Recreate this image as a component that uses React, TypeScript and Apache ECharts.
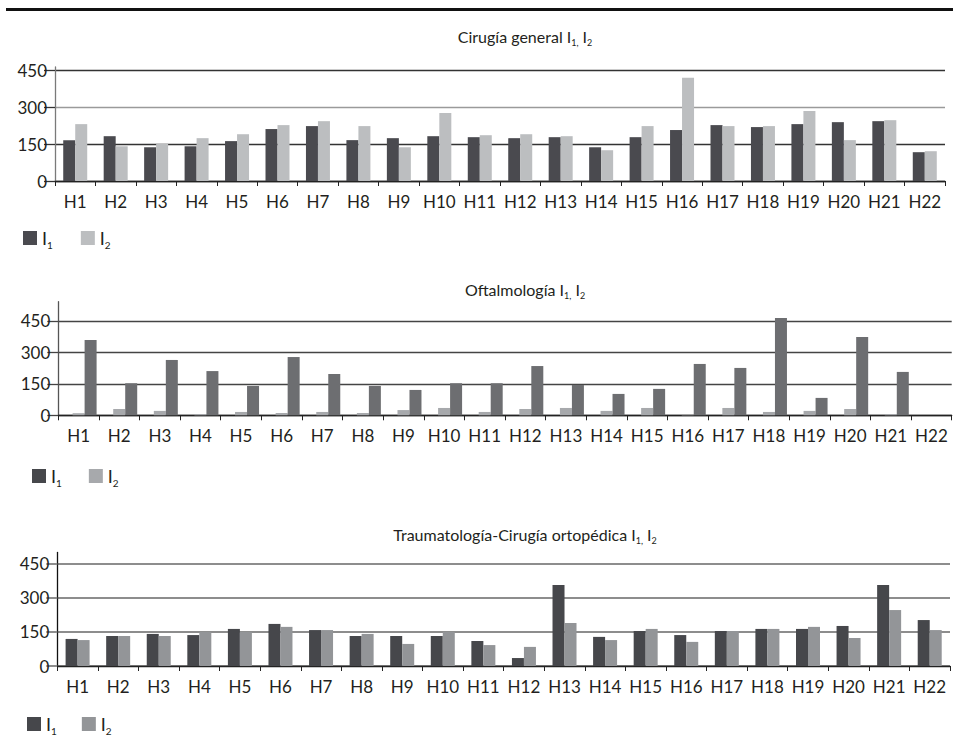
import React, { useEffect, useRef } from 'react';
import * as echarts from 'echarts';

const categories = ['H1','H2','H3','H4','H5','H6','H7','H8','H9','H10','H11','H12','H13','H14','H15','H16','H17','H18','H19','H20','H21','H22'];
const yTicks = [0, 150, 300, 450];

// Cirugía general
const cgI1 = [166,182,137,141,162,211,223,166,174,182,178,174,178,137,178,207,227,219,231,239,243,117];
const cgI2 = [231,141,152,174,190,227,243,223,137,276,186,190,182,125,223,419,223,223,284,166,247,121];

// Oftalmología (drawn as in the source: light I2 bars, then the tall dark bars)
const ofI2 = [10,30,21,6,16,11,16,11,25,35,16,30,35,21,35,2,35,16,21,30,6,0];
const ofI1 = [359,153,264,211,140,278,197,140,121,153,153,235,145,102,126,245,226,464,83,374,207,0];
const ofPad = categories.map(() => null);

// Traumatología-Cirugía ortopédica
const trI1 = [119,132,141,136,163,185,158,132,132,132,110,35,356,128,154,136,154,163,163,176,356,202];
const trI2 = [114,132,132,150,150,172,158,141,97,150,92,84,189,114,163,106,154,163,172,123,246,158];

const FONT = 'Lato';
const TXT = '#231f20';

const subRich = {
  a: { fontFamily: FONT, fontSize: 16, fontWeight: 'normal', color: TXT, lineHeight: 20 },
  s: { fontFamily: FONT, fontSize: 9, fontWeight: 'normal', color: TXT, lineHeight: 10, verticalAlign: 'top', padding: [12, 0, 0, 0] },
};
const legRich = {
  a: { fontFamily: FONT, fontSize: 18, fontWeight: 'normal', color: TXT, lineHeight: 18 },
  s: { fontFamily: FONT, fontSize: 10, fontWeight: 'normal', color: TXT, lineHeight: 10, verticalAlign: 'top', padding: [11, 0, 0, 0] },
};

function makeTitle(text: string, top: number) {
  return {
    text: `{a|${text} I}{s|1,}{a| I}{s|2}`,
    left: 525,
    top,
    textAlign: 'center',
    textStyle: { fontWeight: 'normal', fontFamily: FONT, rich: subRich },
    padding: 0,
  };
}

function makeLegend(names: any[], left: number, top: number, gap: number) {
  return {
    data: names,
    left,
    top,
    padding: 0,
    itemWidth: 14,
    itemHeight: 14,
    itemGap: gap,
    icon: 'rect',
    selectedMode: false,
    formatter: (n: string) => (n.endsWith('I1') ? '{a|I}{s|1}' : '{a|I}{s|2}'),
    textStyle: { rich: legRich },
  };
}

function makeX(idx: number) {
  return {
    type: 'category',
    gridIndex: idx,
    data: categories,
    axisLine: { show: true, lineStyle: { color: '#222', width: 1.3 } },
    axisTick: { show: true, length: 5, lineStyle: { color: '#222', width: 1 } },
    axisLabel: { interval: 0, margin: 12, fontFamily: FONT, fontSize: 17, color: TXT },
    splitLine: { show: false },
  };
}

function makeY(idx: number, max: number, axisColor: string, splitColors: string[], splitWidth: number) {
  return {
    type: 'value',
    gridIndex: idx,
    min: 0,
    max,
    axisLine: { show: true, lineStyle: { color: axisColor, width: 1.3 } },
    axisTick: { show: true, length: 11, customValues: yTicks, lineStyle: { color: splitColors[1], width: splitWidth } },
    axisLabel: { customValues: yTicks, margin: 8, fontFamily: FONT, fontSize: 17, color: TXT },
    splitLine: { show: true, lineStyle: { color: splitColors, width: splitWidth } },
  };
}

function bar(name: string, data: any[], color: string, idx: number) {
  return {
    type: 'bar',
    name,
    data,
    xAxisIndex: idx,
    yAxisIndex: idx,
    barWidth: 12,
    barGap: '0%',
    itemStyle: { color },
    silent: true,
  };
}

export default function App() {
  const ref = useRef<HTMLDivElement>(null);
  useEffect(() => {
    if (!ref.current) return;
    const chart = echarts.init(ref.current, null, { renderer: 'svg' });
    chart.setOption({
      animation: false,
      backgroundColor: '#ffffff',
      title: [
        makeTitle('Cirugía general', 26),
        makeTitle('Oftalmología', 279),
        makeTitle('Traumatología-Cirugía ortopédica', 524),
      ],
      legend: [
        makeLegend(['c1_I1', 'c1_I2'], 23, 229, 28),
        makeLegend([{ name: 'c2_I1', itemStyle: { color: '#46474b' } }, 'c2_I2'], 32, 467, 27),
        makeLegend(['c3_I1', 'c3_I2'], 27, 715, 25),
      ],
      grid: [
        { left: 55, width: 890, top: 67, height: 114, containLabel: false },
        { left: 58.3, width: 893.4, top: 301.7, height: 113.6, containLabel: false },
        { left: 57.3, width: 892.7, top: 552.5, height: 113.5, containLabel: false },
      ],
      xAxis: [makeX(0), makeX(1), makeX(2)],
      yAxis: [
        makeY(0, 463, '#7a7a7a', ['#333333', '#333333', '#9a9a9a', '#333333'], 1.3),
        makeY(1, 542, '#555555', ['#444444', '#444444', '#444444', '#444444'], 1.3),
        makeY(2, 499, '#111111', ['#8d8d8d', '#8d8d8d', '#8d8d8d', '#8d8d8d'], 2),
      ],
      graphic: [
        { type: 'rect', left: 6, top: 8, shape: { width: 947, height: 3 }, style: { fill: '#111111' }, silent: true },
      ],
      series: [
        bar('c1_I1', cgI1, '#4a4a4f', 0),
        bar('c1_I2', cgI2, '#bcbec0', 0),
        bar('c2_pad', ofPad, '#46474b', 1),
        bar('c2_I2', ofI2, '#a7a9ac', 1),
        bar('c2_I1', ofI1, '#6d6e71', 1),
        bar('c3_I1', trI1, '#46474b', 2),
        bar('c3_I2', trI2, '#939598', 2),
      ],
    });
    return () => chart.dispose();
  }, []);
  return <div ref={ref} style={{ position: 'absolute', left: 0, top: 0, width: 953, height: 736 }} />;
}
